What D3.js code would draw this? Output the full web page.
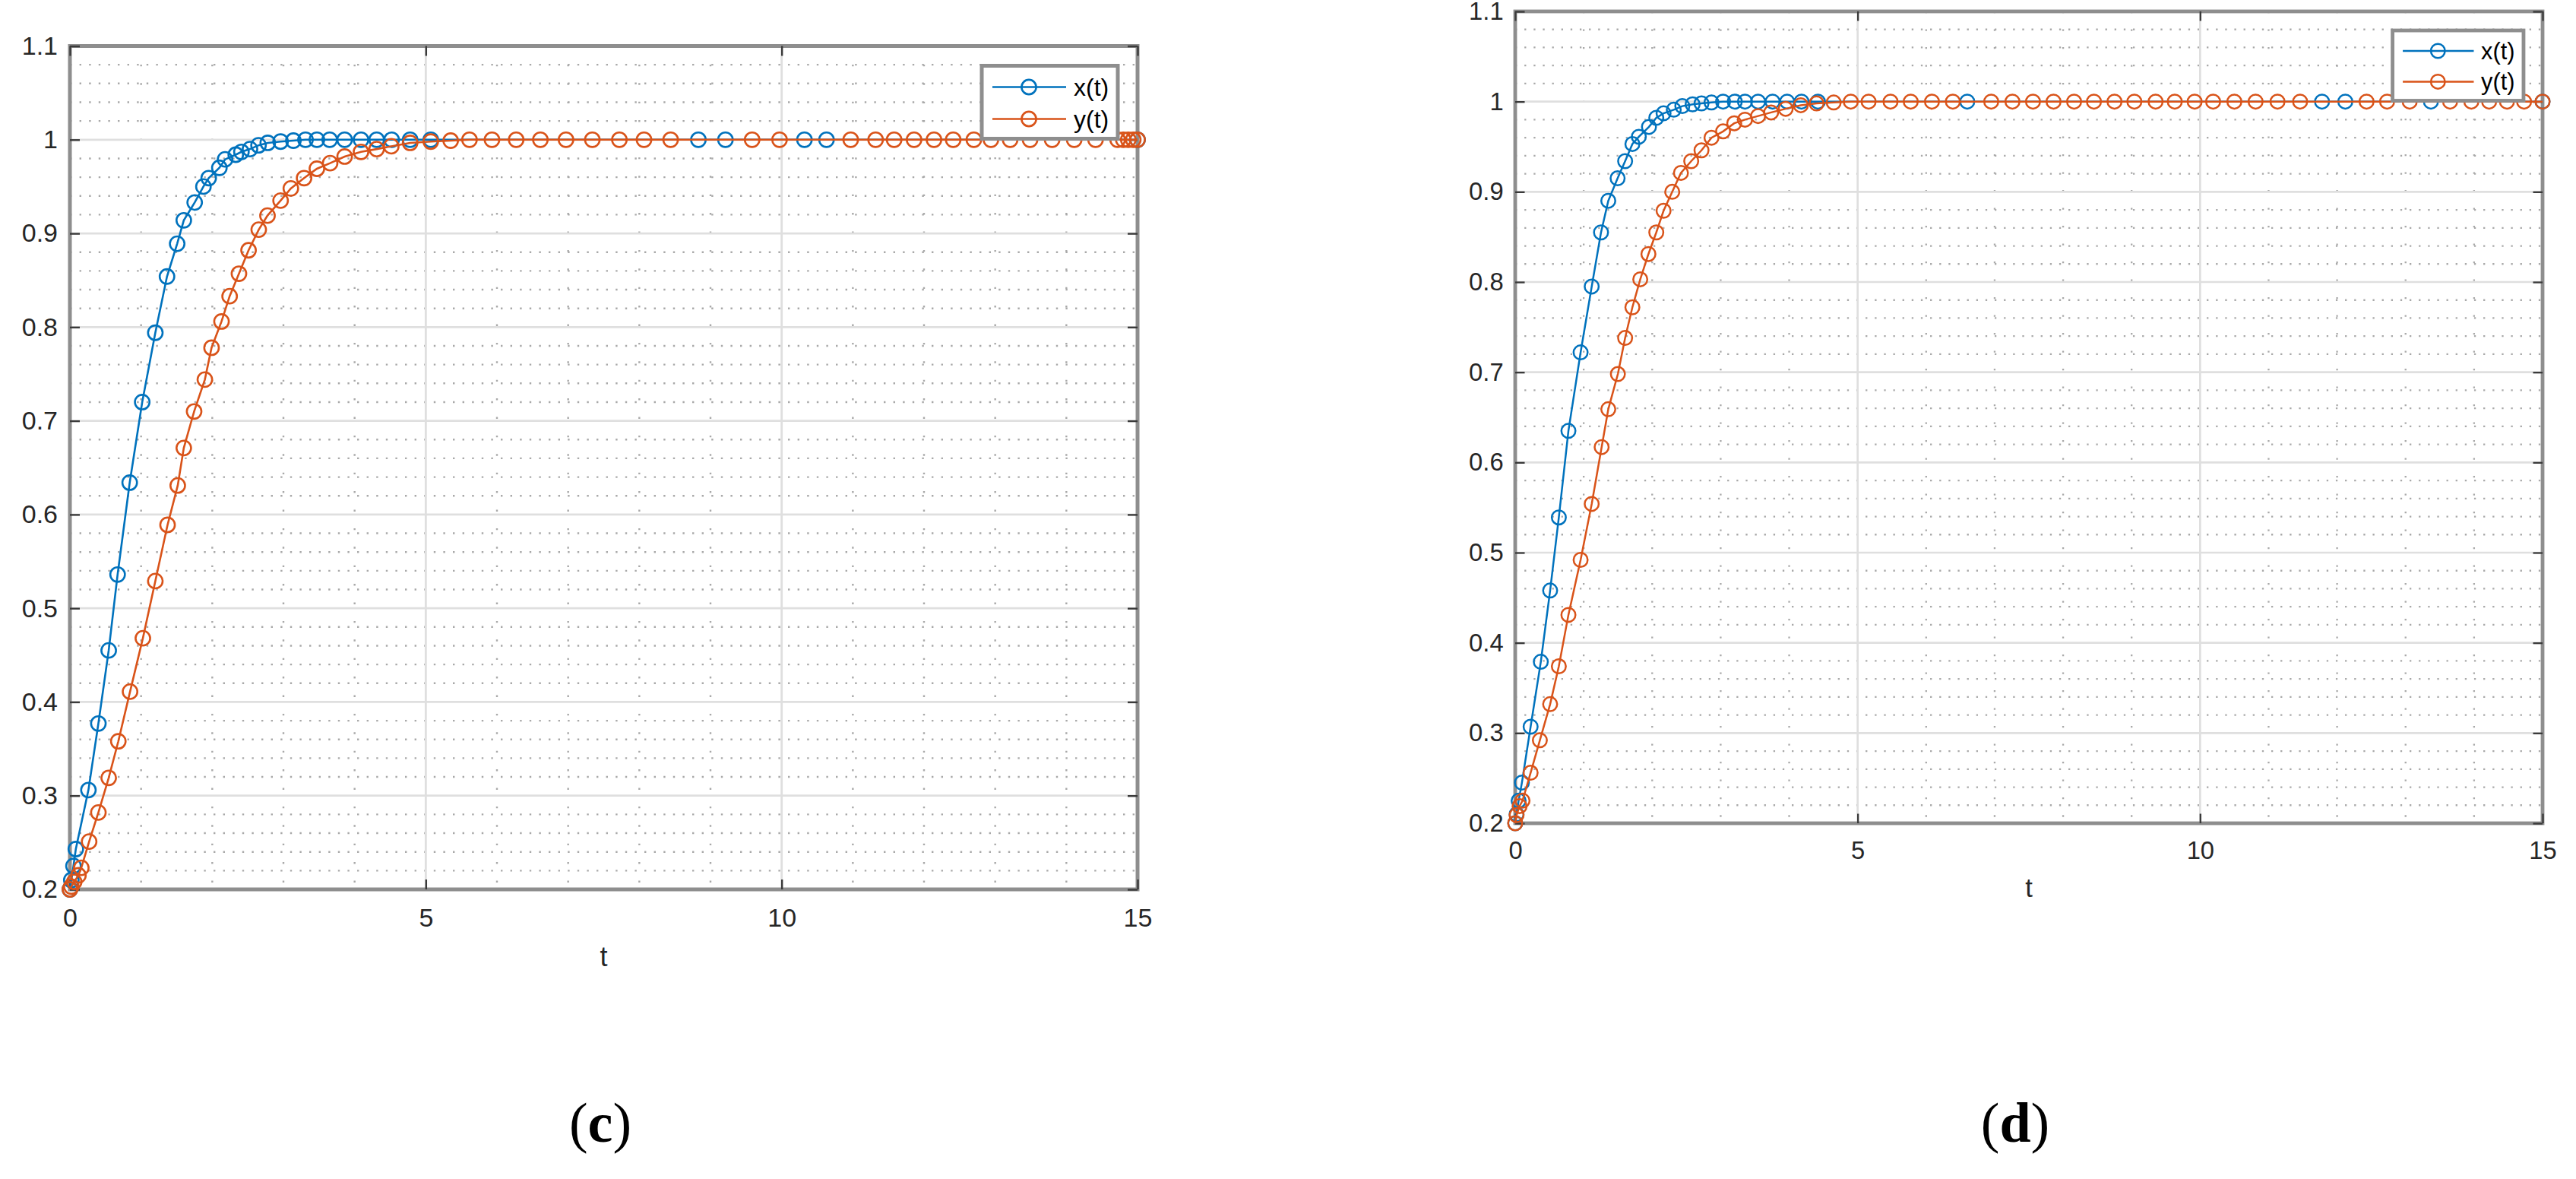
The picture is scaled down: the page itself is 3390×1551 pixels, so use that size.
<!DOCTYPE html>
<html>
<head>
<meta charset="utf-8">
<script src="https://cdn.jsdelivr.net/npm/d3@7"></script>
<style>
    html, body { margin: 0; padding: 0; background: #fff; }
    svg { display: block; }
</style>
</head>
<body>
<svg id="chart" width="3390" height="1551"></svg>
<script>
var tickT = [0, 5, 10, 15];
var tickV = [0.2, 0.3, 0.4, 0.5, 0.6, 0.7, 0.8, 0.9, 1, 1.1];
var seriesNames = ["x(t)", "y(t)"];
var panelNames = ["c", "d"];

// panel (c)
var cTimeX = [0, 0.02, 0.05, 0.083, 0.26, 0.40, 0.545, 0.67, 0.84, 1.016, 1.20, 1.364, 1.507, 1.60,
    1.753, 1.876, 1.95, 2.10, 2.18, 2.33, 2.41, 2.53, 2.65, 2.78, 2.96, 3.14, 3.31, 3.47, 3.65,
    3.86, 4.09, 4.31, 4.52, 4.78, 5.07, 8.83, 9.21, 10.32, 10.63, 15];
var cValX = [0.2, 0.21, 0.225, 0.243, 0.306, 0.377, 0.455, 0.536, 0.634, 0.720, 0.794, 0.854, 0.889, 0.914,
    0.933, 0.950, 0.959, 0.970, 0.979, 0.984, 0.987, 0.990, 0.994, 0.9966, 0.998, 0.999, 1, 1, 1,
    1, 1, 1, 1, 1, 1, 1, 1, 1, 1, 1];
var cTimeY = [0, 0.02, 0.06, 0.12, 0.16, 0.27, 0.40, 0.545, 0.68, 0.845, 1.025, 1.20, 1.372, 1.515, 1.60,
    1.745, 1.896, 1.99, 2.13, 2.244, 2.375, 2.51, 2.653, 2.776, 2.96, 3.104, 3.29, 3.47, 3.656, 3.86,
    4.09, 4.31, 4.515, 4.78, 5.07, 5.35, 5.614, 5.93, 6.27, 6.61, 6.97, 7.34, 7.72, 8.066, 8.44,
    9.585, 9.97, 10.97, 11.32, 11.58, 11.86, 12.14, 12.41, 12.70, 12.94, 13.21, 13.49, 13.80, 14.11, 14.41,
    14.72, 14.80, 14.87, 14.94, 15];
var cValY = [0.2, 0.203, 0.208, 0.215, 0.223, 0.251, 0.282, 0.319, 0.358, 0.411, 0.468, 0.529, 0.589, 0.631, 0.671,
    0.710, 0.744, 0.778, 0.806, 0.833, 0.857, 0.882, 0.904, 0.919, 0.935, 0.948, 0.959, 0.969, 0.975, 0.982,
    0.987, 0.990, 0.993, 0.9966, 0.998, 0.999, 1, 1, 1, 1, 1, 1, 1, 1, 1,
    1, 1, 1, 1, 1, 1, 1, 1, 1, 1, 1, 1, 1, 1, 1,
    1, 1, 1, 1, 1];

// panel (d)
var dTimeX = [0, 0.02, 0.05, 0.098, 0.225, 0.374, 0.51, 0.637, 0.777, 0.955, 1.117, 1.253, 1.359, 1.495,
    1.605, 1.711, 1.805, 1.953, 2.06, 2.166, 2.315, 2.44, 2.59, 2.72, 2.866, 3.035, 3.206, 3.355, 3.546,
    3.758, 3.97, 4.18, 4.42, 6.6, 11.78, 12.12, 13.37, 15];
var dValX = [0.2, 0.21, 0.225, 0.245, 0.307, 0.379, 0.458, 0.539, 0.635, 0.722, 0.795, 0.855, 0.890, 0.915,
    0.934, 0.953, 0.961, 0.972, 0.982, 0.987, 0.991, 0.995, 0.997, 0.998, 0.999, 1, 1, 1, 1,
    1, 1, 1, 1, 1, 1, 1, 1, 1];
var dTimeY = [0, 0.02, 0.064, 0.107, 0.225, 0.36, 0.51, 0.637, 0.777, 0.955, 1.117, 1.262, 1.359, 1.499,
    1.605, 1.711, 1.826, 1.945, 2.06, 2.166, 2.293, 2.42, 2.57, 2.72, 2.866, 3.035, 3.198, 3.355, 3.546,
    3.737, 3.949, 4.17, 4.40, 4.65, 4.90, 5.16, 5.48, 5.775, 6.085, 6.39, 6.95, 7.26, 7.56, 7.86,
    8.16, 8.45, 8.75, 9.04, 9.35, 9.63, 9.92, 10.19, 10.5, 10.81, 11.13, 11.46, 12.43, 12.73, 13.06,
    13.65, 13.96, 14.22, 14.48, 14.73, 15];
var dValY = [0.2, 0.209, 0.219, 0.225, 0.256, 0.292, 0.332, 0.374, 0.431, 0.492, 0.554, 0.617, 0.659, 0.698,
    0.738, 0.772, 0.803, 0.831, 0.855, 0.879, 0.900, 0.921, 0.934, 0.946, 0.960, 0.967, 0.976, 0.980, 0.984,
    0.988, 0.992, 0.996, 0.998, 0.999, 1, 1, 1, 1, 1, 1, 1, 1, 1, 1,
    1, 1, 1, 1, 1, 1, 1, 1, 1, 1, 1, 1, 1, 1, 1,
    1, 1, 1, 1, 1, 1];

var colors = ["#0072BD", "#D95319"];
var sansFont = "'Liberation Sans', Arial, Helvetica, sans-serif";
var serifFont = "'Liberation Serif', 'Times New Roman', serif";

var charts = {};

charts.response = function() {

    return {
        render: function(series, box, target) {

            var k = box.k,
                axisGray = "#8e8e8e",
                tickLen = 13 * k,
                markR = 9.6 * k;

            var x = d3.scaleLinear()
                .domain([tickT[0], tickT[tickT.length - 1]])
                .range([box.left, box.right]);
            var y = d3.scaleLinear()
                .domain([tickV[0], tickV[tickV.length - 1]])
                .range([box.bottom, box.top]);

            var g = target.append("g");

            // minor grid, every 1 in t and every 0.02 in value
            var minorT = d3.range(1, 15).filter(function(d) { return d % 5 !== 0; });
            var minorV = d3.range(11, 55)
                .filter(function(d) { return d % 5 !== 0; })
                .map(function(d) { return d / 50; });

            g.selectAll(null).data(minorV).enter().append("line")
                .attr("x1", box.left).attr("x2", box.right)
                .attr("y1", function(d) { return y(d); })
                .attr("y2", function(d) { return y(d); })
                .attr("stroke", "#a9a9a9")
                .attr("stroke-width", 2.4 * k)
                .attr("stroke-dasharray", (2.4 * k) + " " + (10.2 * k));

            g.selectAll(null).data(minorT).enter().append("line")
                .attr("y1", box.top).attr("y2", box.bottom)
                .attr("x1", function(d) { return x(d); })
                .attr("x2", function(d) { return x(d); })
                .attr("stroke", "#a9a9a9")
                .attr("stroke-width", 2.4 * k)
                .attr("stroke-dasharray", (2.4 * k) + " " + (22 * k));

            // major grid
            g.selectAll(null).data(tickV.slice(1, -1)).enter().append("line")
                .attr("x1", box.left).attr("x2", box.right)
                .attr("y1", function(d) { return y(d); })
                .attr("y2", function(d) { return y(d); })
                .attr("stroke", "#dfdfdf")
                .attr("stroke-width", 2.8 * k);

            g.selectAll(null).data(tickT.slice(1, -1)).enter().append("line")
                .attr("y1", box.top).attr("y2", box.bottom)
                .attr("x1", function(d) { return x(d); })
                .attr("x2", function(d) { return x(d); })
                .attr("stroke", "#dfdfdf")
                .attr("stroke-width", 2.8 * k);

            g.append("rect")
                .attr("x", box.left).attr("y", box.top)
                .attr("width", box.right - box.left)
                .attr("height", box.bottom - box.top)
                .attr("fill", "none")
                .attr("stroke", axisGray)
                .attr("stroke-width", 5 * k);

            function styleAxis(sel) {
                sel.select(".domain").remove();
                sel.selectAll("line").attr("stroke", "#3a3a3a").attr("stroke-width", 2.4 * k);
                sel.selectAll("text").attr("fill", "#262626");
                sel.attr("font-family", sansFont).attr("font-size", 34 * k);
            }

            g.append("g")
                .attr("transform", "translate(" + box.left + ",0)")
                .call(d3.axisLeft(y).tickValues(tickV).tickSize(-tickLen).tickPadding(16 * k)
                    .tickFormat(function(d) { return String(d); }))
                .call(styleAxis);
            g.append("g")
                .attr("transform", "translate(" + box.right + ",0)")
                .call(d3.axisRight(y).tickValues(tickV).tickSize(-tickLen).tickFormat(""))
                .call(styleAxis);
            g.append("g")
                .attr("transform", "translate(0," + box.bottom + ")")
                .call(d3.axisBottom(x).tickValues(tickT).tickSize(-tickLen).tickPadding(25 * k)
                    .tickFormat(function(d) { return String(d); }))
                .call(styleAxis);
            g.append("g")
                .attr("transform", "translate(0," + box.top + ")")
                .call(d3.axisTop(x).tickValues(tickT).tickSize(-tickLen).tickFormat(""))
                .call(styleAxis);

            g.append("text")
                .attr("x", (box.left + box.right) / 2)
                .attr("y", box.bottom + 101 * k)
                .attr("text-anchor", "middle")
                .attr("font-family", sansFont)
                .attr("font-size", 36 * k)
                .attr("fill", "#262626")
                .text("t");

            // series: x(t) first, y(t) drawn over it
            var line = d3.line()
                .x(function(d) { return x(d[0]); })
                .y(function(d) { return y(d[1]); });

            series.forEach(function(s, i) {
                var pts = d3.zip(s.t, s.v);
                g.append("path")
                    .datum(pts)
                    .attr("d", line)
                    .attr("fill", "none")
                    .attr("stroke", colors[i])
                    .attr("stroke-width", 2.6 * k);
                g.selectAll(null).data(pts).enter().append("circle")
                    .attr("cx", function(d) { return x(d[0]); })
                    .attr("cy", function(d) { return y(d[1]); })
                    .attr("r", markR)
                    .attr("fill", "none")
                    .attr("stroke", colors[i])
                    .attr("stroke-width", 2.6 * k);
            });

            // legend
            var lx = box.right - 26 * k - 179 * k,
                ly = box.top + 26 * k;
            var lg = g.append("g");
            lg.append("rect")
                .attr("x", lx).attr("y", ly)
                .attr("width", 179 * k).attr("height", 96 * k)
                .attr("fill", "#fff")
                .attr("stroke", axisGray)
                .attr("stroke-width", 5 * k);

            var row = lg.selectAll(null).data(seriesNames).enter().append("g")
                .attr("transform", function(d, i) {
                    return "translate(" + lx + "," + (ly + (28 + i * 42) * k) + ")";
                });
            row.append("line")
                .attr("x1", 14 * k).attr("x2", 111 * k)
                .attr("stroke", function(d, i) { return colors[i]; })
                .attr("stroke-width", 2.6 * k);
            row.append("circle")
                .attr("cx", 62 * k)
                .attr("r", markR)
                .attr("fill", "none")
                .attr("stroke", function(d, i) { return colors[i]; })
                .attr("stroke-width", 2.6 * k);
            row.append("text")
                .attr("x", 121 * k)
                .attr("dy", "0.35em")
                .attr("font-family", sansFont)
                .attr("font-size", 32 * k)
                .attr("fill", "#000")
                .text(function(d) { return d; });

            // panel caption
            var cap = target.append("text")
                .attr("x", box.captionX)
                .attr("y", 1502)
                .attr("text-anchor", "middle")
                .attr("font-family", serifFont)
                .attr("font-size", 74)
                .attr("fill", "#000");
            cap.append("tspan").text("(");
            cap.append("tspan").attr("font-weight", "bold").text(box.name);
            cap.append("tspan").text(")");

            return this;
        }
    };
};

var svg = d3.select("#chart");

charts.response().render(
    [{ t: cTimeX, v: cValX }, { t: cTimeY, v: cValY }],
    { left: 92, right: 1497, top: 60.5, bottom: 1170, k: 1, captionX: 790, name: panelNames[0] },
    svg);

charts.response().render(
    [{ t: dTimeX, v: dValX }, { t: dTimeY, v: dValY }],
    { left: 1994, right: 3346, top: 15, bottom: 1083, k: 0.963, captionX: 2652, name: panelNames[1] },
    svg);
</script>
</body>
</html>
